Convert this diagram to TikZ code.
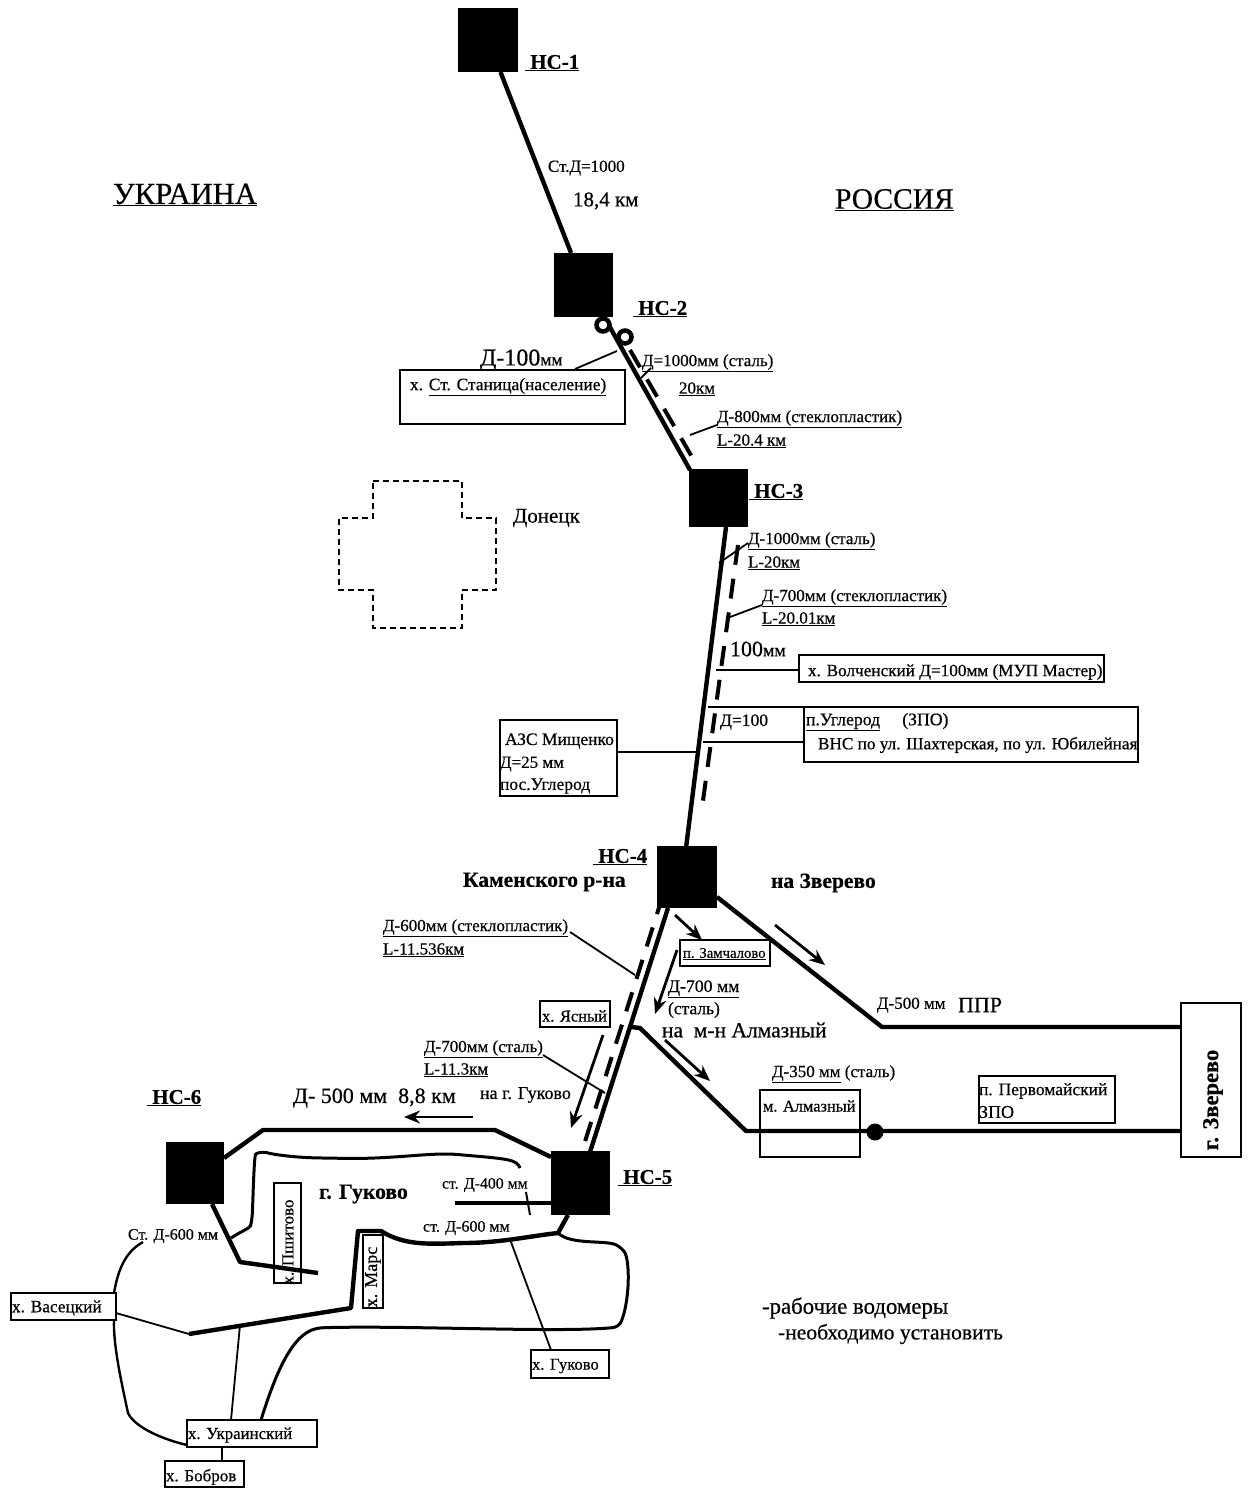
\documentclass[tikz,border=0pt]{standalone}
\usepackage{fontspec}
\setmainfont{Liberation Serif}[FakeBold=0.5]
\usetikzlibrary{arrows.meta}
\tikzset{
  tx/.style={anchor=west,inner sep=0pt,outer sep=0pt,yshift=-2pt,font=\fontsize{#1}{#1}\selectfont},
  txb/.style={anchor=west,inner sep=0pt,outer sep=0pt,yshift=-2pt,font=\fontsize{#1}{#1}\selectfont\bfseries},
  nstext/.style={txb=21},
  station/.style={fill=black,draw=none,inner sep=0pt,outer sep=0pt},
  boxst/.style={draw=black,line width=1.8pt,fill=white,inner sep=0pt,outer sep=0pt},
  pipe/.style={line width=4.4pt,line join=round},
  duct/.style={line width=4pt,dash pattern=on 20pt off 14pt},
  loopline/.style={line width=3pt,line join=round,rounded corners=6pt},
  thin leader/.style={line width=1.8pt},
  flow/.style={line width=2.8pt,-{Stealth[length=16pt,width=13pt]}},
  meter/.style={circle,draw=black,line width=4.5pt,fill=white,minimum size=13pt,inner sep=0pt},
  meterb/.style={circle,fill=black,minimum size=17pt,inner sep=0pt}
}
\newcommand{\bxs}[6][boxst]{%
  \pgfmathsetmacro{\bw}{#5-#3}\pgfmathsetmacro{\bh}{#6-#4}%
  \pgfmathsetmacro{\bx}{(#3+#5)/2}\pgfmathsetmacro{\by}{(#4+#6)/2}%
  \node[#1,minimum width=\bw pt,minimum height=\bh pt] (#2) at (\bx,\by) {};}
\begin{document}
\begin{tikzpicture}[x=1pt,y=-1pt]
\useasboundingbox (0,0) rectangle (1252,1488);
% stations
\bxs[station]{nsa}{458}{8}{518}{72}
\bxs[station]{nsb}{554}{253}{613}{317}
\bxs[station]{nsc}{689}{469}{748}{527}
\bxs[station]{nsd}{657}{846}{717}{908}
\bxs[station]{nse}{551}{1151}{610}{1215}
\bxs[station]{nsf}{166}{1142}{224}{1204}
% junction coordinates
\coordinate (c23a) at (607,322);
\coordinate (c23b) at (690,470);
\coordinate (d23a) at (630,350);
\coordinate (d23b) at (692,457);
\coordinate (c34a) at (726,527);
\coordinate (c34b) at (686,848);
\coordinate (d34a) at (738,545);
\coordinate (d34b) at (702,808);
\coordinate (c45a) at (668,908);
\coordinate (c45b) at (590,1152);
\coordinate (d45a) at (663,895);
\coordinate (d45b) at (582,1151);
\coordinate (jalm0) at (631,1027);
\coordinate (jalm) at (640,1028);
\coordinate (kalm) at (746,1131);
\coordinate (jzva) at (717,897);
\coordinate (kzv) at (882,1027);
% boxes
\bxs{bst}{400}{370}{625}{424}
\bxs{bvol}{799}{655}{1104}{682}
\bxs{bugl}{804}{707}{1138}{762}
\bxs{bazs}{500}{720}{617}{796}
\bxs{bzam}{680}{940}{770}{966}
\bxs{byas}{540}{1001}{610}{1027}
\bxs{bper}{979}{1076}{1115}{1123}
\bxs{bzve}{1181}{1003}{1241}{1157}
% pipes
\draw[pipe] (nsa) -- (nsb);
\draw[pipe] (c23a) -- (c23b);
\draw[duct] (d23a) -- (d23b);
\draw[pipe] (c34a) -- (c34b);
\draw[duct] (d34a) -- (d34b);
\draw[pipe] (c45a) -- (c45b);
\draw[duct] (d45a) -- (d45b);
\draw[pipe] (jzva) -- (kzv) -- (bzve.west |- kzv);
\draw[pipe] (jalm0) -- (jalm) -- (kalm) -- (bzve.west |- kalm);
\bxs[draw=black,line width=1.8pt,inner sep=0pt,outer sep=0pt]{balm}{760}{1090}{860}{1157}
\node[meter] (ma) at (603,325) {};
\node[meter] (mb) at (625,337) {};
\node[meterb] (mc) at (875,1132) {};
% lower network
\coordinate (f1) at (224,1158);
\coordinate (f2) at (263,1130);
\coordinate (f3) at (495,1130);
\coordinate (f4) at (551,1157);
\draw[pipe] (f1) -- (f2) -- (f3) -- (f4);
\coordinate (g0) at (212,1204);
\coordinate (g1) at (240,1262);
\coordinate (g2) at (318,1273);
\bxs{bpit}{274}{1183}{301}{1283}
\bxs{bmar}{363}{1235}{383}{1308}
\draw[pipe] (g0) -- (g1) -- (g2);
\coordinate (h0) at (520,1168);
\draw[loopline] (h0) .. controls (517,1160) and (510,1159) .. (463,1155) .. controls (430,1152) and (390,1160) .. (330,1158) .. controls (300,1158) and (275,1155) .. (261,1151) .. controls (254,1155) and (253,1200) .. (252,1220) .. controls (250,1228) and (240,1232) .. (231,1238);
\coordinate (i0) at (568,1215);
\coordinate (i1) at (558,1233);
\coordinate (i2) at (351,1308);
\coordinate (i3) at (189,1334);
\draw[pipe] (i0) -- (i1) .. controls (530,1236) and (500,1243) .. (463,1243) .. controls (430,1244) and (405,1246) .. (381,1231) -- (358,1231) -- (i2) -- (i3);
\draw[loopline] (i1) .. controls (570,1245) and (605,1240) .. (621,1247) .. controls (630,1260) and (630,1300) .. (619,1327) .. controls (560,1333) and (400,1325) .. (316,1328) .. controls (290,1340) and (275,1375) .. (261,1420);
\coordinate (j0) at (455,1203);
\draw[pipe] (j0) -- (nse.west |- j0);
\coordinate (tk1) at (526,1192);
\coordinate (tk2) at (530,1215);
\draw[line width=2pt] (tk1) -- (tk2);
% lower boxes
\bxs{bvas}{11}{1293}{116}{1320}
\bxs{bukr}{187}{1420}{317}{1447}
\bxs{bbob}{165}{1461}{244}{1487}
\bxs{bguk}{531}{1350}{609}{1378}
\coordinate (v1) at (143,1242);
\draw[line width=2.4pt,line join=round] (v1) .. controls (125,1252) and (118,1270) .. (114,1293);
\coordinate (v2) at (114,1320);
\draw[line width=2.4pt,line join=round] (v2) .. controls (113,1345) and (122,1385) .. (128,1413) .. controls (135,1428) and (165,1440) .. (187,1445);
\draw[thin leader] (bvas.east |- 0,1313) -- (i3);
\coordinate (u1) at (240,1325);
\draw[thin leader] (u1) -- (231,1420);
\coordinate (u2) at (511,1242);
\draw[thin leader] (u2) -- (551,1350);
\draw[line width=2pt] (222,1447) -- (222,1461);
% leaders
\coordinate (l1) at (617,351);
\draw[thin leader] (l1) -- (575,369);
\coordinate (l2) at (641,378);
\draw[thin leader] (l2) -- (651,368);
\coordinate (l3) at (690,435);
\draw[thin leader] (l3) -- (717,425);
\coordinate (l4) at (719,563);
\draw[thin leader] (l4) -- (748,543);
\coordinate (l5) at (730,617);
\draw[thin leader] (l5) -- (762,605);
\coordinate (l6) at (716,670);
\draw[thin leader] (l6) -- (bvol.west |- l6);
\coordinate (l7) at (708,707);
\draw[thin leader] (l7) -- (bugl.north west);
\coordinate (l8) at (703,742);
\draw[thin leader] (l8) -- (bugl.west |- l8);
\coordinate (l9) at (697,752);
\draw[thin leader] (bazs.east |- l9) -- (l9);
\coordinate (l10) at (570,932);
\draw[thin leader] (l10) -- (635,975);
\coordinate (l11) at (543,1055);
\draw[thin leader] (l11) -- (605,1093);
% flow arrows
\coordinate (a1a) at (775,925); \coordinate (a1b) at (825,965);
\draw[flow] (a1a) -- (a1b);
\coordinate (a2a) at (675,915); \coordinate (a2b) at (702,940);
\draw[flow] (a2a) -- (a2b);
\coordinate (a3a) at (677,950); \coordinate (a3b) at (655,1014);
\draw[flow] (a3a) -- (a3b);
\coordinate (a4a) at (665,1040); \coordinate (a4b) at (710,1081);
\draw[flow] (a4a) -- (a4b);
\coordinate (a5a) at (603,1035); \coordinate (a5b) at (571,1128);
\draw[flow] (a5a) -- (a5b);
\coordinate (a6a) at (473,1117); \coordinate (a6b) at (404,1117);
\draw[flow] (a6a) -- (a6b);
% Donetsk
\draw[line width=1.2pt,dash pattern=on 6pt off 4pt] (373,481) -- (462,481) -- (462,518) -- (496,518) -- (496,590) -- (462,590) -- (462,628) -- (373,628) -- (373,590) -- (339,590) -- (339,518) -- (373,518) -- cycle;
% texts
\node[tx=30.7] (tua) at (113,193) {\underline{УКРАИНА}};
\node[tx=29.5] (tru) at (835,198) {\underline{РОССИЯ}};
\node[nstext] (n1) at (525,61) {\underline{\ НС-1}};
\node[nstext] (n2) at (633,307) {\underline{\ НС-2}};
\node[nstext] (n3) at (749,490) {\underline{\ НС-3}};
\node[nstext] (n4) at (593,855) {\underline{\ НС-4}};
\node[nstext] (n5) at (618,1176) {\underline{\ НС-5}};
\node[nstext] (n6) at (147,1096) {\underline{\ НС-6}};
\node[tx=17] (t1) at (548,166) {Ст.Д=1000};
\node[tx=21] (t2) at (573,199) {18,4 км};
\node[tx=24] (t3) at (480,358) {Д-100{\fontsize{17.5}{17.5}\selectfont мм}};
\node[tx=17.4] (t4) at (410,385) {х. \underline{Ст. Станица(население)}};
\node[tx=17] (t5) at (642,361) {\underline{Д=1000мм (сталь)}};
\node[tx=17] (t6) at (679,387) {\underline{20км}};
\node[tx=17] (t7) at (717,417) {\underline{Д-800мм (стеклопластик)}};
\node[tx=17] (t8) at (717,439) {\underline{L-20.4 км}};
\node[tx=21] (t9) at (513,516) {Донецк};
\node[tx=17] (t10) at (748,539) {\underline{Д-1000мм (сталь)}};
\node[tx=17] (t11) at (748,561) {\underline{L-20км}};
\node[tx=17] (t12) at (762,596) {\underline{Д-700мм (стеклопластик)}};
\node[tx=17] (t13) at (762,617) {\underline{L-20.01км}};
\node[tx=22] (t14) at (730,647) {100{\fontsize{18}{18}\selectfont мм}};
\node[tx=17.2] (t15) at (808,671) {\underline{х. Волченский Д=100мм (МУП Мастер)}};
\node[tx=17.5] (t16) at (720,720) {Д=100};
\node[tx=17.7] (t17) at (806,720) {\underline{п.Углерод}\quad\ (ЗПО)};
\node[tx=17.2] (t18) at (818,743) {ВНС по ул. Шахтерская, по ул. Юбилейная};
\node[tx=17.5] (t19) at (505,739) {АЗС Мищенко};
\node[tx=17] (t20) at (500,762) {Д=25 мм};
\node[tx=17.5] (t21) at (500,784) {пос.Углерод};
\node[txb=21.5] (t22) at (463,880) {Каменского р-на};
\node[txb=21.5] (t23) at (771,881) {на Зверево};
\node[tx=17] (t24) at (383,926) {\underline{Д-600мм (стеклопластик)}};
\node[tx=17] (t25) at (383,948) {\underline{L-11.536км}};
\node[tx=14.7] (t26) at (683,952) {\underline{п. Замчалово}};
\node[tx=17.7] (t27) at (668,987) {\underline{Д-700 мм}};
\node[tx=17.5] (t28) at (668,1008) {(сталь)};
\node[tx=21.5] (t29) at (662,1028) {на\ \ м-н Алмазный};
\node[tx=17] (t30a) at (877,1003) {Д-500 мм};
\node[tx=22] (t30b) at (958,1003) {ППР};
\node[tx=16.5] (t31) at (542,1014) {х. Ясный};
\node[tx=17] (t32) at (424,1047) {\underline{Д-700мм (сталь)}};
\node[tx=17] (t33) at (424,1068) {\underline{L-11.3км}};
\node[tx=18] (t34) at (480,1093) {на г. Гуково};
\node[tx=17] (t35) at (772,1072) {\underline{Д-350 мм} (сталь)};
\node[tx=16.4] (t36) at (763,1104) {м. Алмазный};
\node[tx=17.5] (t37) at (979,1089) {п. Первомайский};
\node[tx=18] (t38) at (979,1110) {ЗПО};
\node[txb=22.5,anchor=center,rotate=90,yshift=0pt] (t39) at (1213,1098) {г. Зверево};
\node[tx=22] (t40) at (293,1096) {Д- 500 мм\ \ 8,8 км};
\node[txb=21.7] (t41) at (319,1192) {г. Гуково};
\node[tx=15.8] (t42) at (442,1183) {ст. Д-400 мм};
\node[tx=16] (t43) at (423,1226) {ст. Д-600 мм};
\node[tx=16] (t44) at (128,1234) {Ст. Д-600 мм};
\node[tx=17,anchor=center,rotate=90,yshift=0pt] (t45) at (288,1240) {х. Пшитово};
\node[tx=18,anchor=center,rotate=90,yshift=0pt] (t46) at (373,1275) {х. Марс};
\node[tx=17.3] (t47) at (12,1306) {х. Васецкий};
\node[tx=16.8] (t48) at (188,1433) {х. Украинский};
\node[tx=17] (t49) at (166,1475) {х. Бобров};
\node[tx=16.6] (t50) at (532,1364) {х. Гуково};
\node[tx=22.8] (t51) at (762,1306) {-рабочие водомеры};
\node[tx=21.6] (t52) at (778,1332) {-необходимо установить};
\end{tikzpicture}
\end{document}
